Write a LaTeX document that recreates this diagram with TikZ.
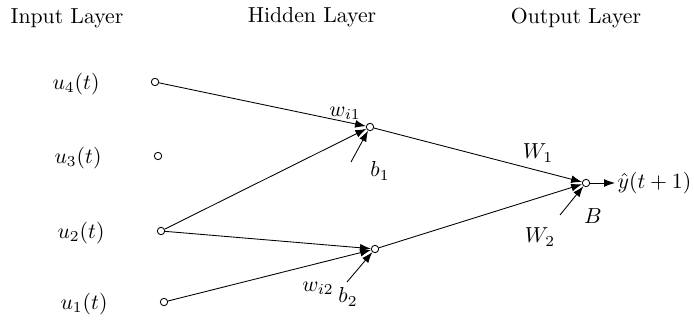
\documentclass[tikz,border=0pt]{standalone}
\usetikzlibrary{arrows.meta}
\begin{document}
\begin{tikzpicture}[x=0.46pt,y=-0.46pt,
  neuron/.style={circle,draw,line width=0.4pt,inner sep=0pt,minimum size=3.4pt},
  conn/.style={line width=0.4pt,-{Latex[length=5pt,width=3.6pt]}},
  lbl/.style={inner sep=0pt}]
\useasboundingbox (0,0) rectangle (694,320);
% titles
\node[lbl] (tin) at (67,18) {Input Layer};
\node[lbl] (thid) at (312,17) {Hidden Layer};
\node[lbl] (tout) at (576,18) {Output Layer};
% input neurons
\node[neuron] (u4) at (155,82) {};
\node[neuron] (u3) at (158,156) {};
\node[neuron] (u2) at (161,231) {};
\node[neuron] (u1) at (164,302) {};
\node[lbl] (lu4) at (76,84) {$u_4(t)$};
\node[lbl] (lu3) at (78,158) {$u_3(t)$};
\node[lbl] (lu2) at (81,233) {$u_2(t)$};
\node[lbl] (lu1) at (84,304) {$u_1(t)$};
% hidden neurons
\node[neuron] (h1) at (370,127) {};
\node[neuron] (h2) at (375,249) {};
% output neuron
\node[neuron] (o) at (586,183) {};
\node[anchor=west,inner sep=1pt] (y) at (615,183) {$\hat{y}(t+1)$};
% bias tails
\coordinate (b1t) at (351,162);
\coordinate (b2t) at (347,282);
\coordinate (Bt) at (560,215);
% connections
\draw[conn] (u4) -- (h1);
\draw[conn] (u2) -- (h1);
\draw[conn] (u2) -- (h2);
\draw[conn] (u1) -- (h2);
\draw[conn] (h1) -- (o);
\draw[conn] (h2) -- (o);
\draw[conn] (o) -- (y);
\draw[conn] (b1t) -- (h1);
\draw[conn] (b2t) -- (h2);
\draw[conn] (Bt) -- (o);
% labels
\node[lbl] (wi1) at (345,113) {$w_{i1}$};
\node[lbl] (b1) at (380,171) {$b_1$};
\node[lbl] (wi2) at (318,288) {$w_{i2}$};
\node[lbl] (b2) at (348,297) {$b_2$};
\node[lbl] (W1) at (538,153) {$W_1$};
\node[lbl] (W2) at (540,237) {$W_2$};
\node[lbl] (B) at (593,216) {$B$};
\end{tikzpicture}
\end{document}
